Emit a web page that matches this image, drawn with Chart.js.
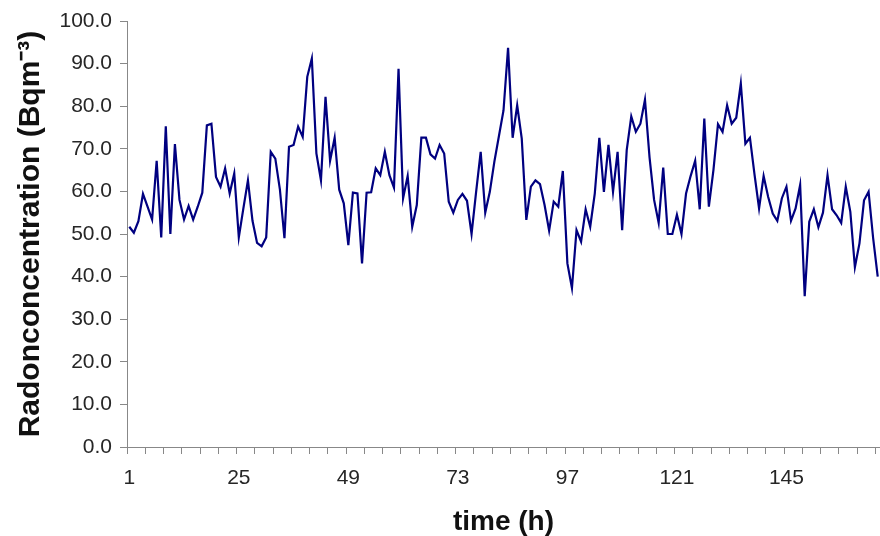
<!DOCTYPE html>
<html>
<head>
<meta charset="utf-8">
<script src="https://cdn.jsdelivr.net/npm/chart.js@4/dist/chart.umd.min.js"></script>
<style>
  html, body { margin: 0; padding: 0; background: #fff; overflow: hidden; }
  #wrap { width: 880px; height: 536px; position: relative; }
</style>
</head>
<body>
<div id="wrap"><canvas id="myChart" width="880" height="536"></canvas></div>
<script>
// hourly radon readings
var radon = [
  51.7, 50.3, 53.0, 59.4, 56.4, 53.4, 67.2, 49.2, 75.3, 50.0,
  71.1, 58.0, 53.4, 56.6, 53.4, 56.4, 59.7, 75.5, 75.9, 63.4,
  61.1, 65.4, 59.5, 64.2, 49.2, 56.0, 62.6, 53.1, 47.9, 47.1,
  49.2, 69.3, 67.7, 60.5, 49.0, 70.5, 70.9, 75.2, 72.8, 86.9,
  91.2, 68.9, 62.6, 82.2, 67.2, 72.6, 60.4, 57.2, 47.4, 59.7,
  59.5, 43.1, 59.7, 59.8, 65.4, 63.8, 69.3, 63.8, 60.9, 88.8,
  58.4, 63.6, 51.7, 56.8, 72.6, 72.6, 68.7, 67.7, 70.9, 68.9,
  57.6, 55.0, 58.0, 59.4, 57.8, 50.0, 59.9, 69.3, 55.0, 59.9,
  67.0, 73.0, 79.0, 93.7, 72.6, 80.2, 72.4, 53.3, 61.1, 62.6,
  61.7, 56.8, 50.8, 57.6, 56.4, 64.8, 43.1, 37.3, 50.9, 48.2,
  55.8, 51.7, 59.5, 72.6, 59.9, 70.9, 59.9, 69.3, 50.9, 69.7,
  77.6, 74.0, 75.9, 81.5, 68.0, 58.0, 52.6, 65.6, 50.0, 50.0,
  54.5, 50.0, 59.5, 63.6, 67.2, 55.8, 77.1, 56.4, 65.0, 75.8,
  74.0, 80.2, 75.9, 77.3, 85.3, 71.2, 72.6, 64.0, 56.0, 63.6,
  58.7, 54.8, 53.1, 58.4, 61.1, 53.1, 56.0, 61.5, 35.4, 52.9,
  55.8, 51.6, 55.0, 63.8, 55.8, 54.4, 52.6, 61.1, 55.2, 42.2,
  47.8, 57.9, 59.9, 49.0, 40.0
];
var hours = [];
for (var h = 1; h <= radon.length; h++) { hours.push(String(h)); }
var shownTicks = ["1", "25", "49", "73", "97", "121", "145"];

var axisGrey = "#888888";
var fontFam = "'Liberation Sans', Arial, sans-serif";

new Chart("myChart", {
  type: "line",
  data: {
    labels: hours,
    datasets: [{
      data: radon,
      borderColor: "#000080",
      borderWidth: 2.2,
      pointRadius: 0,
      tension: 0,
      fill: false
    }]
  },
  options: {
    responsive: false,
    animation: false,
    layout: { padding: { top: 21, right: 0, left: 0, bottom: 0 } },
    plugins: { legend: { display: false }, tooltip: { enabled: false } },
    scales: {
      x: {
        type: "category",
        offset: true,
        grid: {
          offset: true,
          drawOnChartArea: false,
          tickLength: 7,
          color: function (ctx) { return ctx.index % 4 === 0 ? axisGrey : "rgba(0,0,0,0)"; }
        },
        border: { color: axisGrey, width: 1 },
        ticks: {
          autoSkip: false,
          maxRotation: 0,
          padding: 12,
          color: "#262626",
          font: { family: fontFam, size: 21 },
          callback: function (val, i) {
            var lab = hours[i];
            return shownTicks.indexOf(lab) >= 0 ? lab : "";
          }
        },
        title: {
          display: true,
          text: "time (h)",
          color: "#111",
          padding: { top: 0, bottom: 0 },
          font: { family: fontFam, size: 28, weight: "bold", lineHeight: 1 }
        },
        afterFit: function (scale) {
          scale.height = 89;
          scale.paddingLeft = 0;
          scale.paddingRight = 0;
        }
      },
      y: {
        min: 0,
        max: 100,
        grid: { drawOnChartArea: false, tickLength: 7, color: axisGrey },
        border: { color: axisGrey, width: 1 },
        ticks: {
          stepSize: 10,
          padding: 8,
          color: "#262626",
          font: { family: fontFam, size: 21 },
          callback: function (v) { return v.toFixed(1); }
        },
        title: {
          display: true,
          text: "Radonconcentration (Bqm\u207B\u00B3)",
          color: "#111",
          padding: { top: 16, bottom: 0 },
          font: { family: fontFam, size: 30, weight: "bold", lineHeight: 1 }
        },
        afterFit: function (scale) { scale.width = 127; }
      }
    }
  }
});
</script>
</body>
</html>
